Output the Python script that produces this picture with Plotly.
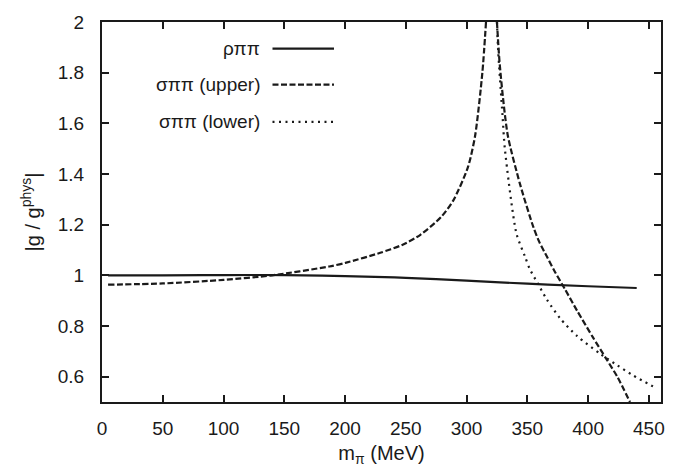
import plotly.graph_objects as go

# Data
rho_x = [5, 50, 100, 150, 200, 250, 300, 350, 400, 440]
rho_y = [1.0, 1.0, 1.001, 1.001, 0.997, 0.99, 0.979, 0.967, 0.957, 0.95]

upper_left_x = [5, 50, 100, 140, 187, 201, 229, 247, 262, 279, 289, 301, 307, 313, 316]
upper_left_y = [0.963, 0.968, 0.982, 1.0, 1.035, 1.05, 1.089, 1.12, 1.16, 1.23, 1.295, 1.425, 1.55, 1.8, 2.0]

upper_right_x = [325, 327, 330, 334, 344, 355, 360, 366, 372, 381, 391, 404, 415, 424, 434.5]
upper_right_y = [2.0, 1.85, 1.7, 1.55, 1.36, 1.19, 1.13, 1.075, 1.02, 0.945, 0.86, 0.755, 0.67, 0.6, 0.5]

lower_x = [325, 326, 329.6, 331.5, 341, 348, 352, 358, 366, 377, 391, 410, 424, 437, 456]
lower_y = [2.0, 1.887, 1.63, 1.5, 1.166, 1.075, 1.025, 0.973, 0.905, 0.83, 0.76, 0.69, 0.645, 0.605, 0.555]

x_ticks = [0, 50, 100, 150, 200, 250, 300, 350, 400, 450]
y_ticks = [0.6, 0.8, 1.0, 1.2, 1.4, 1.6, 1.8, 2.0]
y_tick_labels = ["0.6", "0.8", "1", "1.2", "1.4", "1.6", "1.8", "2"]

legend_labels = ["ρππ", "σππ (upper)", "σππ (lower)"]

INK = "#1a1a1a"
FONT = "Liberation Sans, Arial, sans-serif"
SOLID = "solid"
DASH = "6px,2.5px"
DOT = "2px,4.5px"
W = 2.2

fig = go.Figure()
fig.add_trace(go.Scatter(x=rho_x, y=rho_y, mode="lines", line=dict(color=INK, width=W, dash=SOLID, shape="spline"), showlegend=False))
fig.add_trace(go.Scatter(x=upper_left_x, y=upper_left_y, mode="lines", line=dict(color=INK, width=W, dash=DASH, shape="spline", smoothing=0.7), showlegend=False))
fig.add_trace(go.Scatter(x=upper_right_x, y=upper_right_y, mode="lines", line=dict(color=INK, width=W, dash=DASH, shape="spline", smoothing=0.7), showlegend=False))
fig.add_trace(go.Scatter(x=lower_x, y=lower_y, mode="lines", line=dict(color=INK, width=W, dash=DOT, shape="spline", smoothing=0.7), showlegend=False))

# Legend drawn gnuplot-style: right-aligned text, sample to the right
leg_y = [0.930, 0.835, 0.737]
leg_dash = [SOLID, DASH, DOT]
for lab, yy, dsh in zip(legend_labels, leg_y, leg_dash):
    fig.add_annotation(x=0.287, y=yy, xref="paper", yref="paper", text=lab, showarrow=False,
                       xanchor="right", yanchor="middle", font=dict(family=FONT, size=19, color=INK))
    fig.add_shape(type="line", xref="paper", yref="paper", x0=0.305, x1=0.415, y0=yy, y1=yy,
                  line=dict(color=INK, width=W, dash=dsh))

axis_common = dict(
    showline=True, linecolor=INK, linewidth=2, mirror="ticks",
    ticks="inside", ticklen=7, tickwidth=1.8, tickcolor=INK,
    showgrid=False, zeroline=False,
    tickfont=dict(family=FONT, size=19, color=INK),
)

fig.update_xaxes(range=[0, 460], tickvals=x_ticks, ticklabelstandoff=8,
                 title=dict(text="m<sub>π</sub> (MeV)", font=dict(family=FONT, size=20, color=INK), standoff=8),
                 **axis_common)
fig.update_yaxes(range=[0.5, 2.0], tickvals=y_ticks, ticktext=y_tick_labels, ticklabelstandoff=12,
                 title=dict(text="|g / g<sup>phys</sup>|", font=dict(family=FONT, size=20, color=INK), standoff=12),
                 **axis_common)

fig.update_layout(
    width=688, height=475,
    margin=dict(l=102, r=27, t=14, b=73),
    paper_bgcolor="white", plot_bgcolor="white",
)

fig.write_html("out.html")
